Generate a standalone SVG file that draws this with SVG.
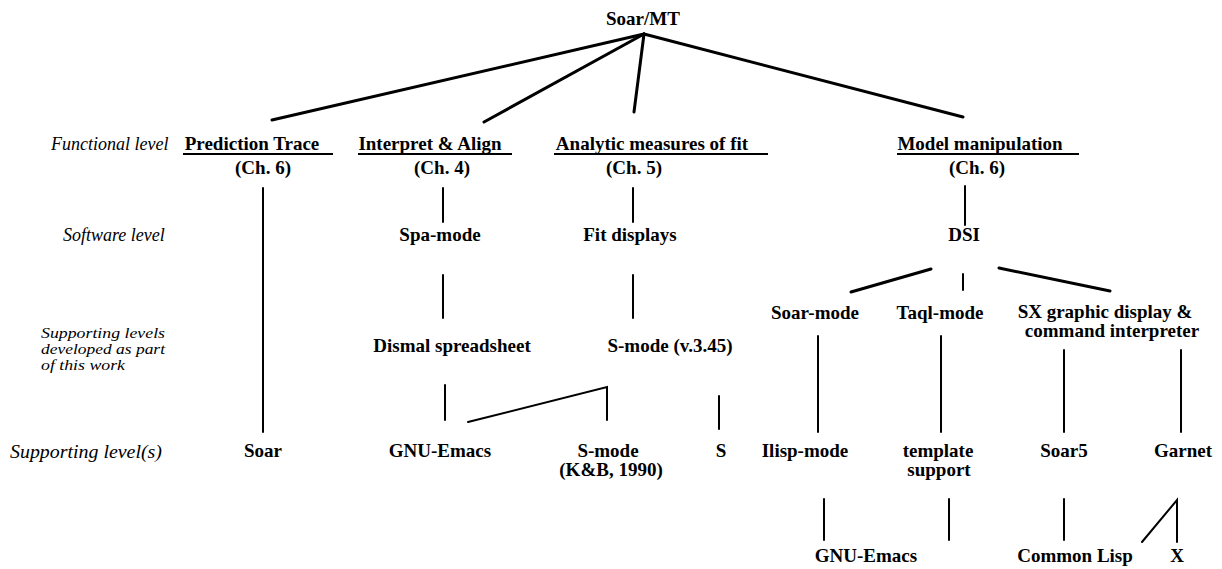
<svg xmlns="http://www.w3.org/2000/svg" width="1222" height="569" viewBox="0 0 1222 569">
<style>
.n{font-family:"Liberation Serif",serif;font-weight:bold;font-size:19px;fill:#000;text-anchor:middle}
.l{font-family:"Liberation Serif",serif;font-style:italic;font-size:18px;fill:#000}
.s{font-size:14.4px}
.c{stroke:#000;stroke-width:2;fill:none;stroke-linecap:round}
.t{stroke:#000;stroke-width:3;fill:none;stroke-linecap:round}
.u{stroke:#000;stroke-width:2}
</style>
<rect width="1222" height="569" fill="#fff"/>
<g id="labels">
<text class="l" x="51" y="150">Functional level</text>
<text class="l" x="63" y="241">Software level</text>
<text class="l s" x="41" y="338" textLength="124" lengthAdjust="spacingAndGlyphs">Supporting levels</text>
<text class="l s" x="41" y="354" textLength="124" lengthAdjust="spacingAndGlyphs">developed as part</text>
<text class="l s" x="41" y="370" textLength="84" lengthAdjust="spacingAndGlyphs">of this work</text>
<text class="l" x="10" y="458" textLength="152" lengthAdjust="spacingAndGlyphs">Supporting level(s)</text>
</g>
<g id="connectors">
<line class="t" x1="644" y1="34" x2="272" y2="120"/>
<line class="t" x1="644" y1="34" x2="484" y2="122"/>
<line class="t" x1="644" y1="34" x2="634" y2="112"/>
<line class="t" x1="644" y1="34" x2="963" y2="117"/>
<line class="c" x1="263" y1="188" x2="263" y2="432"/>
<line class="c" x1="443" y1="188" x2="443" y2="222"/>
<line class="c" x1="633" y1="188" x2="633" y2="222"/>
<line class="c" x1="965" y1="186" x2="965" y2="225"/>
<line class="c" x1="443" y1="275" x2="443" y2="318"/>
<line class="c" x1="633" y1="275" x2="633" y2="318"/>
<line class="t" x1="931" y1="269" x2="851" y2="292"/>
<line class="c" x1="963" y1="274" x2="963" y2="290"/>
<line class="t" x1="999" y1="268" x2="1110" y2="291"/>
<line class="c" x1="818" y1="336" x2="818" y2="432"/>
<line class="c" x1="941" y1="336" x2="941" y2="432"/>
<line class="c" x1="1064" y1="350" x2="1064" y2="432"/>
<line class="c" x1="1181" y1="350" x2="1181" y2="432"/>
<line class="c" x1="445" y1="385" x2="445" y2="420"/>
<polyline class="c" points="468,422 607,387 607,420"/>
<line class="c" x1="719" y1="396" x2="719" y2="429"/>
<line class="c" x1="824" y1="499" x2="824" y2="540"/>
<line class="c" x1="949" y1="499" x2="949" y2="540"/>
<line class="c" x1="1064" y1="499" x2="1064" y2="540"/>
<polyline class="c" points="1142,542 1177,500 1177,542"/>
</g>
<g id="soar-mt"><text class="n" x="643" y="25">Soar/MT</text></g>
<g id="prediction-trace">
<text class="n" x="252" y="150">Prediction Trace</text>
<line class="u" x1="183" y1="154" x2="333" y2="154"/>
<text class="n" x="263" y="174">(Ch. 6)</text>
</g>
<g id="interpret-align">
<text class="n" x="430" y="150">Interpret &amp; Align</text>
<line class="u" x1="358" y1="154" x2="512" y2="154"/>
<text class="n" x="442" y="174">(Ch. 4)</text>
</g>
<g id="analytic-measures">
<text class="n" x="652" y="150">Analytic measures of fit</text>
<line class="u" x1="554" y1="154" x2="768" y2="154"/>
<text class="n" x="634" y="174">(Ch. 5)</text>
</g>
<g id="model-manipulation">
<text class="n" x="980" y="150">Model manipulation</text>
<line class="u" x1="897" y1="154" x2="1079" y2="154"/>
<text class="n" x="977" y="174">(Ch. 6)</text>
</g>
<g id="spa-mode"><text class="n" x="440" y="241">Spa-mode</text></g>
<g id="fit-displays"><text class="n" x="630" y="241">Fit displays</text></g>
<g id="dsi"><text class="n" x="964" y="241">DSI</text></g>
<g id="dismal"><text class="n" x="452" y="352">Dismal spreadsheet</text></g>
<g id="s-mode-345"><text class="n" x="670" y="352">S-mode (v.3.45)</text></g>
<g id="soar-mode"><text class="n" x="815" y="319">Soar-mode</text></g>
<g id="taql-mode"><text class="n" x="940" y="319">Taql-mode</text></g>
<g id="sx"><text class="n" x="1105" y="318">SX graphic display &amp;</text><text class="n" x="1112" y="337">command interpreter</text></g>
<g id="soar"><text class="n" x="263" y="457">Soar</text></g>
<g id="gnu-emacs-1"><text class="n" x="440" y="457">GNU-Emacs</text></g>
<g id="s-mode-kb"><text class="n" x="608" y="457">S-mode</text><text class="n" x="611" y="476">(K&amp;B, 1990)</text></g>
<g id="s"><text class="n" x="721" y="457">S</text></g>
<g id="ilisp-mode"><text class="n" x="805" y="457">Ilisp-mode</text></g>
<g id="template"><text class="n" x="938" y="457">template</text><text class="n" x="939" y="476">support</text></g>
<g id="soar5"><text class="n" x="1064" y="457">Soar5</text></g>
<g id="garnet"><text class="n" x="1183" y="457">Garnet</text></g>
<g id="gnu-emacs-2"><text class="n" x="866" y="562">GNU-Emacs</text></g>
<g id="common-lisp"><text class="n" x="1075" y="562">Common Lisp</text></g>
<g id="x"><text class="n" x="1177" y="562">X</text></g>
</svg>
